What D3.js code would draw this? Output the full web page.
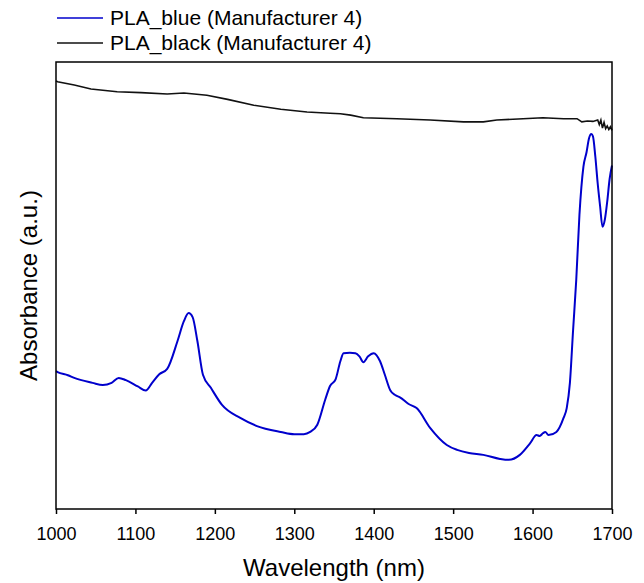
<!DOCTYPE html>
<html><head><meta charset="utf-8">
<script src="https://cdn.jsdelivr.net/npm/d3@7"></script>
<style>body{margin:0;background:#fff}svg{display:block;font-family:"Liberation Sans",Arial,sans-serif}</style>
</head><body><svg id="c" width="644" height="583"></svg>
<script>
// Wavelength (nm) and absorbance (arbitrary units)
const blueWl  = [1000,1002,1015,1023,1046,1059,1070,1079,1088,1103,1113,1121,1130,1140,1153,1161,1167,1172,1178,1185,1195,1209,1232,1253,1283,1300,1312,1320,1329,1339,1345,1352,1358,1362,1370,1377,1382,1387,1393,1400,1408,1414,1421,1427,1433,1444,1454,1471,1492,1505,1520,1538,1559,1570,1584,1597,1605,1609,1613,1616,1620,1630,1639,1643,1647,1651,1655,1659,1664,1668,1671,1674,1676,1679,1682,1685,1688,1691,1694,1697,1700];
const blueAbs = [0.313,0.311,0.304,0.298,0.287,0.282,0.287,0.298,0.293,0.279,0.27,0.287,0.306,0.318,0.38,0.424,0.442,0.433,0.38,0.305,0.276,0.238,0.209,0.191,0.178,0.173,0.173,0.178,0.194,0.25,0.28,0.295,0.335,0.353,0.354,0.353,0.346,0.333,0.346,0.353,0.335,0.305,0.27,0.26,0.255,0.24,0.231,0.187,0.149,0.138,0.131,0.127,0.118,0.116,0.127,0.153,0.171,0.169,0.175,0.178,0.171,0.178,0.209,0.231,0.287,0.404,0.516,0.66,0.767,0.80,0.83,0.84,0.835,0.79,0.73,0.68,0.634,0.65,0.69,0.74,0.77];
const blackWl  = [1000,1002,1023,1044,1077,1107,1140,1161,1190,1216,1249,1283,1316,1345,1358,1371,1387,1429,1471,1513,1538,1555,1588,1613,1639,1656,1662,1669,1676,1682,1684,1686,1688,1690,1692,1694,1696,1698,1700];
const blackAbs = [0.958,0.956,0.949,0.94,0.934,0.932,0.929,0.931,0.926,0.917,0.904,0.895,0.889,0.886,0.885,0.882,0.876,0.874,0.871,0.867,0.867,0.871,0.874,0.876,0.874,0.874,0.867,0.869,0.868,0.871,0.861,0.871,0.853,0.866,0.852,0.858,0.85,0.856,0.848];
const xTicks = [1000,1100,1200,1300,1400,1500,1600,1700];
const seriesNames = ["PLA_blue (Manufacturer 4)","PLA_black (Manufacturer 4)"];
const seriesColors = ["#0000cc","#111111"];

const svg = d3.select("#c");
const L=56,R=612,T=62,B=509;
const x = d3.scaleLinear().domain([1000,1700]).range([L,R]);
const y = d3.scaleLinear().domain([0.0067,1]).range([B,T]);

svg.append("path").datum(blackWl.map((w,i)=>[w,blackAbs[i]]))
  .attr("d",d3.line().x(d=>x(d[0])).y(d=>y(d[1])))
  .attr("fill","none").attr("stroke",seriesColors[1]).attr("stroke-width",1.6);
svg.append("path").datum(blueWl.map((w,i)=>[w,blueAbs[i]]))
  .attr("d",d3.line().x(d=>x(d[0])).y(d=>y(d[1])).curve(d3.curveMonotoneX))
  .attr("fill","none").attr("stroke",seriesColors[0]).attr("stroke-width",2);

svg.append("rect").attr("x",L).attr("y",T).attr("width",R-L).attr("height",B-T)
  .attr("fill","none").attr("stroke","#000").attr("stroke-width",1.5);

const ax = svg.append("g").attr("transform",`translate(0,${B})`)
  .call(d3.axisBottom(x).tickValues(xTicks).tickFormat(d3.format("d")).tickSize(5).tickPadding(13));
ax.select(".domain").remove();
ax.selectAll("line").attr("stroke","#000").attr("stroke-width",1.5);
ax.selectAll("text").attr("font-size",18).attr("fill","#000").attr("font-family","Liberation Sans, Arial, sans-serif");

svg.append("text").attr("x",(L+R)/2).attr("y",576).attr("text-anchor","middle")
  .attr("font-size",24).text("Wavelength (nm)");
svg.append("text").attr("transform",`translate(37,${(T+B)/2}) rotate(-90)`).attr("text-anchor","middle")
  .attr("font-size",24).text("Absorbance (a.u.)");

const lg = svg.append("g");
seriesNames.forEach((n,i)=>{
  const yy = 18 + i*25;
  lg.append("line").attr("x1",57).attr("x2",103).attr("y1",yy).attr("y2",yy)
    .attr("stroke",seriesColors[i]).attr("stroke-width",1.6);
  lg.append("text").attr("x",110).attr("y",yy).attr("dy","0.35em").attr("font-size",21).text(n);
});
</script></body></html>
